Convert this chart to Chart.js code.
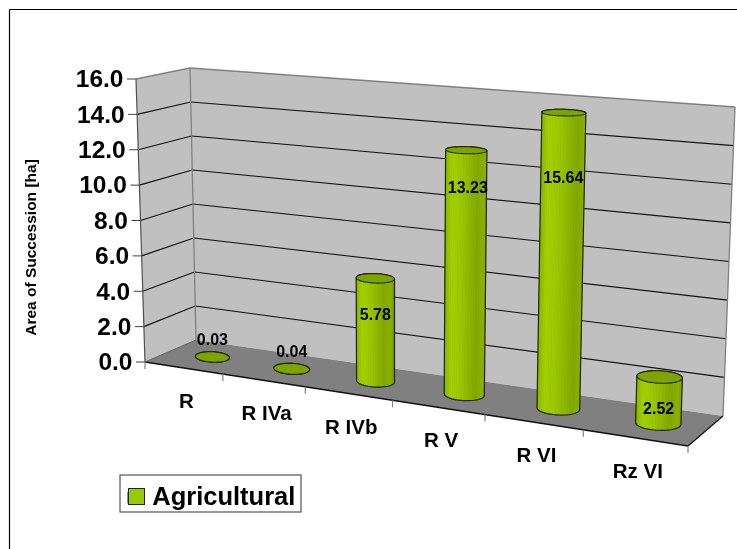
<!DOCTYPE html>
<html><head><meta charset="utf-8">
<style>html,body{margin:0;padding:0;background:#fff}canvas{display:block}</style>
<script src="https://cdn.jsdelivr.net/npm/chart.js@4"></script>
</head><body><canvas id="c" width="737" height="549"></canvas>
<script>
const categories = ["R", "R IVa", "R IVb", "R V", "R VI", "Rz VI"];
const seriesName = "Agricultural";
const values = [0.03, 0.04, 5.78, 13.23, 15.64, 2.52];
const yMax = 16, yStep = 2;
const axisTitle = "Area of Succession [ha]";

const FONT = '"Liberation Sans", Arial, sans-serif';
// perspective frame of the plot box: floor corners (front-left, front-right, back-right, back-left)
const floorQuad = [[145,362],[688,446],[723,416],[196,340]];
// ceiling corners above front-left, back-right, back-left; the ceiling is an affine image of the floor
const ceilPts = [[136,79],[735,107],[190,68]];
function homography(q){
  const [p0,p1,p2,p3]=q;
  const dx1=p1[0]-p2[0],dx2=p3[0]-p2[0],sx=p0[0]-p1[0]+p2[0]-p3[0];
  const dy1=p1[1]-p2[1],dy2=p3[1]-p2[1],sy=p0[1]-p1[1]+p2[1]-p3[1];
  const den=dx1*dy2-dx2*dy1;
  const g=(sx*dy2-dx2*sy)/den,h=(dx1*sy-sx*dy1)/den;
  const a=p1[0]-p0[0]+g*p1[0],b=p3[0]-p0[0]+h*p3[0],c=p0[0];
  const d=p1[1]-p0[1]+g*p1[1],e=p3[1]-p0[1]+h*p3[1],f=p0[1];
  return (u,v)=>{const w=g*u+h*v+1;return [(a*u+b*v+c)/w,(d*u+e*v+f)/w];};
}
const HF=homography(floorQuad);
function floorToCeil(p){
  const A=floorQuad[0],B=floorQuad[2],C=floorQuad[3];
  const den=(B[1]-C[1])*(A[0]-C[0])+(C[0]-B[0])*(A[1]-C[1]);
  const l1=((B[1]-C[1])*(p[0]-C[0])+(C[0]-B[0])*(p[1]-C[1]))/den;
  const l2=((C[1]-A[1])*(p[0]-C[0])+(A[0]-C[0])*(p[1]-C[1]))/den;
  const l3=1-l1-l2;
  return [l1*ceilPts[0][0]+l2*ceilPts[1][0]+l3*ceilPts[2][0],l1*ceilPts[0][1]+l2*ceilPts[1][1]+l3*ceilPts[2][1]];
}
function P(u,d,h){const a=HF(u,d),b=floorToCeil(a);return [a[0]+(b[0]-a[0])*h,a[1]+(b[1]-a[1])*h];}
function poly(ctx,pts){ctx.beginPath();pts.forEach((p,i)=>i?ctx.lineTo(p[0],p[1]):ctx.moveTo(p[0],p[1]));ctx.closePath();}
function seg(ctx,a,b,col,w){ctx.strokeStyle=col;ctx.lineWidth=w;ctx.beginPath();ctx.moveTo(a[0],a[1]);ctx.lineTo(b[0],b[1]);ctx.stroke();}
function hull(pts){
  const s=pts.slice().sort((a,b)=>a[0]-b[0]||a[1]-b[1]);
  const cr=(o,a,b)=>(a[0]-o[0])*(b[1]-o[1])-(a[1]-o[1])*(b[0]-o[0]);
  const lo=[],up=[];
  for(const p of s){while(lo.length>1&&cr(lo[lo.length-2],lo[lo.length-1],p)<=0)lo.pop();lo.push(p);}
  for(let i=s.length-1;i>=0;i--){const p=s[i];while(up.length>1&&cr(up[up.length-2],up[up.length-1],p)<=0)up.pop();up.push(p);}
  lo.pop();up.pop();return lo.concat(up);
}
const shadeStops=[[0,[141,179,0]],[.12,[163,209,0]],[.35,[153,198,0]],[.7,[128,166,0]],[.88,[141,176,0]],[1,[111,143,0]]];
function shade(t){
  for(let i=1;i<shadeStops.length;i++){
    if(t<=shadeStops[i][0]){
      const a=shadeStops[i-1],b=shadeStops[i],k=(t-a[0])/(b[0]-a[0]);
      return `rgb(${a[1].map((v,j)=>Math.round(v+(b[1][j]-v)*k)).join(",")})`;
    }
  }
  return "rgb(111,143,0)";
}
// label nudges relative to the top of each cylinder
const labelDy=[-16,-16.5,37.5,38,66,33];
const labelDx=[0,0,0,1.5,-0.5,-1];
const depthCentre=0.5, depthRadius=0.23, ellipseTilt=0.3;
const barShiftPx=4, barTopInsetPx=2.5;

function barPose(el,area){
  const w=area.right-area.left,H=area.bottom-area.top;
  return {u:(el.x+barShiftPx-area.left)/w,r:el.width/2/w,h:Math.max(0,area.bottom-el.y-barTopInsetPx)/H};
}
// outline of a cylinder's circular section at height h
function ring(u,r,h,N){
  const C=P(u,depthCentre,h),a=P(u-r,depthCentre,h),b=P(u+r,depthCentre,h);
  const f=P(u,depthCentre-depthRadius,h),g=P(u,depthCentre+depthRadius,h);
  const A=(b[0]-a[0])/2,T=(b[1]-a[1])/2*ellipseTilt,B=(f[1]-g[1])/2;
  const out=[];
  for(let i=0;i<N;i++){
    const t=i/N*Math.PI*2;
    out.push([C[0]+A*Math.cos(t),C[1]+T*Math.cos(t)-B*Math.sin(t)]);
  }
  return out;
}

const box3d={
  id:"box3d",
  beforeDraw(chart){
    const leg=chart.legend;
    leg.left=120;leg.top=477;leg.right=301;leg.bottom=512;
  },
  beforeDatasetsDraw(chart){
    const ctx=chart.ctx,sy=chart.scales.y,area=chart.chartArea;
    const hOf=p=>(area.bottom-p)/(area.bottom-area.top);
    ctx.save();
    seg(ctx,[9.5,9.5],[737,9.5],"#000",1.2);
    seg(ctx,[9.5,9.5],[9.5,549],"#000",1.2);
    ctx.fillStyle="#C0C0C0";
    poly(ctx,[P(0,0,0),P(0,1,0),P(0,1,1),P(0,0,1)]);ctx.fill();
    poly(ctx,[P(0,1,0),P(1,1,0),P(1,1,1),P(0,1,1)]);ctx.fill();
    ctx.fillStyle="#808080";
    poly(ctx,[P(0,0,0),P(1,0,0),P(1,1,0),P(0,1,0)]);ctx.fill();
    sy.ticks.forEach((t,i)=>{
      const h=hOf(sy.getPixelForTick(i));
      const f=P(0,0,h);
      seg(ctx,[f[0]-9,f[1]],f,"#404040",1);
      if(t.value>0&&t.value<yMax){
        seg(ctx,f,P(0,1,h),"#111",1.1);
        seg(ctx,P(0,1,h),P(1,1,h),"#111",1.1);
      }
    });
    seg(ctx,P(0,0,1),P(0,1,1),"#808080",1.3);
    seg(ctx,P(0,1,1),P(1,1,1),"#808080",1.3);
    seg(ctx,P(1,1,1),P(1,1,0),"#808080",1.3);
    seg(ctx,P(0,1,1),P(0,1,0),"#808080",1.3);
    seg(ctx,P(0,0,1),P(0,0,0),"#505050",1.2);
    seg(ctx,P(0,0,0),P(1,0,0),"#111",1.3);
    seg(ctx,P(0,0,0),P(0,1,0),"#606060",1);
    seg(ctx,P(1,0,0),P(1,1,0),"#111",1.2);
    for(let i=0;i<=categories.length;i++){
      const a=P(i/categories.length,0,0);
      seg(ctx,a,[a[0],a[1]+7],"#808080",1.2);
    }
    ctx.restore();
  },
  beforeDatasetDraw(chart,args){
    const ctx=chart.ctx,area=chart.chartArea;
    const N=48;
    args.meta.data.forEach(el=>{
      const {u,r,h}=barPose(el,area);
      const bot=ring(u,r,0,N),top=ring(u,r,h,N);
      const hl=hull(bot.concat(top));
      const xs=hl.map(p=>p[0]),mn=Math.min(...xs),mx=Math.max(...xs);
      ctx.save();
      ctx.fillStyle="#8DB300";
      poly(ctx,hl);ctx.fill();
      ctx.save();poly(ctx,hl);ctx.clip();
      // front facets only, lit from the left
      for(let i=N/2;i<N;i++){
        const j=(i+1)%N;
        const t=(Math.min(bot[i][0],top[i][0])-mn)/(mx-mn);
        ctx.fillStyle=shade(Math.max(0,Math.min(1,t)));
        poly(ctx,[bot[i],bot[j],top[j],top[i]]);ctx.fill();
      }
      ctx.restore();
      ctx.strokeStyle="#1c2600";ctx.lineWidth=1.2;
      poly(ctx,hl);ctx.stroke();
      ctx.fillStyle="#7FA300";
      poly(ctx,top);ctx.fill();ctx.lineWidth=1.1;ctx.stroke();
      ctx.restore();
    });
    return false;
  },
  afterDatasetsDraw(chart){
    const ctx=chart.ctx,sx=chart.scales.x,sy=chart.scales.y,area=chart.chartArea;
    const w=area.right-area.left,H=area.bottom-area.top;
    ctx.save();
    ctx.fillStyle="#000";
    ctx.font="bold 16px "+FONT;ctx.textAlign="center";ctx.textBaseline="middle";
    chart.getDatasetMeta(0).data.forEach((el,i)=>{
      const b=barPose(el,area),p=P(b.u,depthCentre,b.h);
      ctx.fillText(values[i].toFixed(2),p[0]+labelDx[i],p[1]+labelDy[i]);
    });
    ctx.font="bold 24.5px "+FONT;ctx.textAlign="right";
    sy.ticks.forEach((t,i)=>{
      const f=P(0,0,(area.bottom-sy.getPixelForTick(i))/H);
      ctx.fillText(t.label,f[0]-12.5,f[1]+1.5);
    });
    ctx.font="bold 20.5px "+FONT;ctx.textAlign="center";
    sx.ticks.forEach((t,i)=>{
      const f=P((sx.getPixelForTick(i)-area.left)/w,0,0);
      ctx.fillText(t.label,f[0]+3,f[1]+34.5);
    });
    ctx.save();
    ctx.translate(32,247.5);ctx.rotate(-Math.PI/2);
    ctx.font="bold 15.5px "+FONT;ctx.fillText(axisTitle,0,0);
    ctx.restore();
    ctx.strokeStyle="#444";ctx.lineWidth=1.1;
    ctx.strokeRect(120,475,181,37);
    ctx.fillStyle=chart.data.datasets[0].backgroundColor;
    ctx.fillRect(128.5,488.5,16,16);
    ctx.strokeStyle="#222";ctx.lineWidth=1;
    ctx.strokeRect(128.5,488.5,16,16);
    ctx.restore();
  }
};

new Chart(document.getElementById("c"),{
  type:"bar",
  data:{labels:categories,datasets:[{label:seriesName,data:values,backgroundColor:"#99CC00",borderColor:"#222",borderWidth:1,barPercentage:0.44,categoryPercentage:1}]},
  options:{
    responsive:false,animation:false,
    layout:{padding:{left:145,right:49,top:80,bottom:187}},
    plugins:{
      tooltip:{enabled:false},
      legend:{display:true,position:"chartArea",align:"start",
        labels:{boxWidth:11.5,boxHeight:11.5,padding:8,color:"#000",font:{family:FONT,size:25.5,weight:"bold"}}}
    },
    scales:{
      x:{display:false,offset:true},
      y:{display:false,min:0,max:yMax,ticks:{stepSize:yStep,callback:v=>v.toFixed(1)}}
    }
  },
  plugins:[box3d]
});
</script></body></html>
